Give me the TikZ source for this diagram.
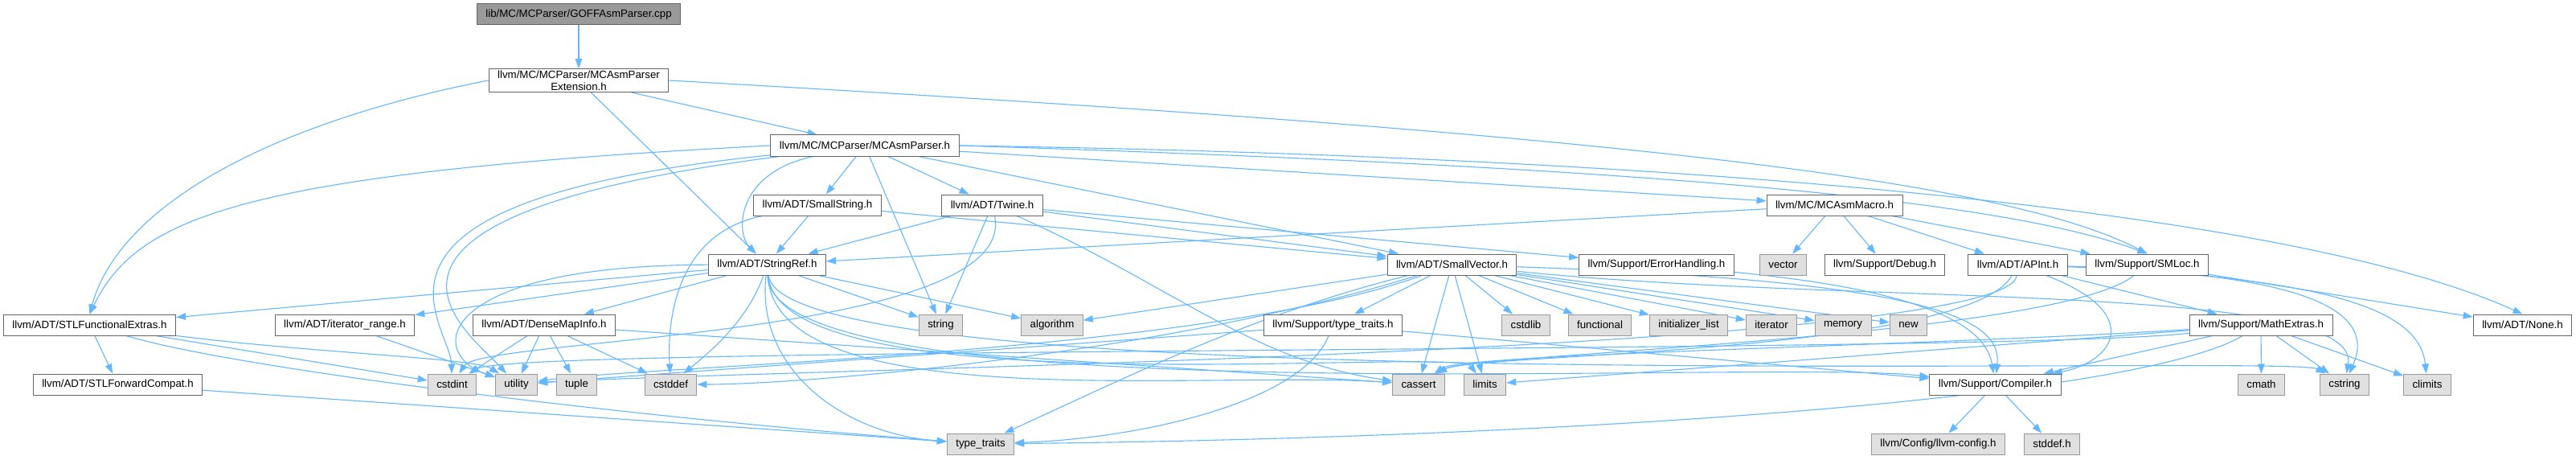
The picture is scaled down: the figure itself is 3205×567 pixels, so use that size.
\documentclass[tikz,border=0pt]{standalone}
\usepackage{fontspec}
\setmainfont{Liberation Sans}
\usetikzlibrary{arrows.meta, backgrounds}

\definecolor{linkblue}{HTML}{63B8FF}
\definecolor{fileborder}{HTML}{666666}
\definecolor{sysfill}{HTML}{E0E0E0}
\definecolor{sysborder}{HTML}{999999}
\definecolor{rootfill}{HTML}{999999}

\begin{document}
\begin{tikzpicture}[
    x=1pt, y=-1pt,
    file/.style={
        draw=fileborder,
        fill=white,
        line width=1pt,
        font=\fontsize{13.3}{15}\selectfont,
        minimum height=26pt,
        inner xsep=11pt,
        inner ysep=2pt,
        align=center
    },
    sys/.style={file, draw=sysborder, fill=sysfill},
    root/.style={file, fill=rootfill},
    dep/.style={draw=linkblue, line width=1.1pt, -{Triangle[length=12pt, width=8.5pt]}}
]
\useasboundingbox (0,0) rectangle (3205,567);

% Source file (Level 0)
\node[root] (goff) at (720,18) {lib/MC/MCParser/GOFFAsmParser.cpp};
\node[file] (ext) at (720,100) {llvm/MC/MCParser/MCAsmParser\\Extension.h};
\node[file] (parser) at (1076,181) {llvm/MC/MCParser/MCAsmParser.h};

% Level 3
\node[file] (smallstring) at (1017,255) {llvm/ADT/SmallString.h};
\node[file] (twine) at (1234.5,255) {llvm/ADT/Twine.h};
\node[file] (asmmacro) at (2282.5,255) {llvm/MC/MCAsmMacro.h};

% Level 4
\node[file] (stringref) at (954.5,329) {llvm/ADT/StringRef.h};
\node[file] (smallvector) at (1806.5,329) {llvm/ADT/SmallVector.h};
\node[file] (errhandling) at (2061,329) {llvm/Support/ErrorHandling.h};
\node[sys] (vector) at (2218.5,329) {vector};
\node[file] (debug) at (2345,329) {llvm/Support/Debug.h};
\node[file] (apint) at (2510.5,329) {llvm/ADT/APInt.h};
\node[file] (smloc) at (2671.5,329) {llvm/Support/SMLoc.h};

% Level 5
\node[file] (stlfe) at (111.5,404) {llvm/ADT/STLFunctionalExtras.h};
\node[file] (iterrange) at (429,404) {llvm/ADT/iterator\_range.h};
\node[file] (densemap) at (677,404) {llvm/ADT/DenseMapInfo.h};
\node[sys] (string) at (1170.5,404) {string};
\node[sys] (algorithm) at (1309,404) {algorithm};
\node[file] (supptraits) at (1658.5,404) {llvm/Support/type\_traits.h};
\node[sys] (cstdlib) at (1898.5,404) {cstdlib};
\node[sys] (functional) at (1990.5,404) {functional};
\node[sys] (initlist) at (2101,404) {initializer\_list};
\node[sys] (iterator) at (2204,404) {iterator};
\node[sys] (memory) at (2293,404) {memory};
\node[sys] (new) at (2374.5,404) {new};
\node[file] (mathextras) at (2813,404) {llvm/Support/MathExtras.h};
\node[file] (none) at (3138.5,404) {llvm/ADT/None.h};

% Level 6
\node[file] (stlfc) at (146.5,478) {llvm/ADT/STLForwardCompat.h};
\node[sys] (cstdint) at (562.5,478) {cstdint};
\node[sys] (utility) at (642.5,478) {utility};
\node[sys] (tuple) at (717.5,478) {tuple};
\node[sys] (cstddef) at (834.5,478) {cstddef};
\node[sys] (cassert) at (1765,478) {cassert};
\node[sys] (limits) at (1847.5,478) {limits};
\node[file] (compiler) at (2482.5,478) {llvm/Support/Compiler.h};
\node[sys] (cmath) at (2813.5,478) {cmath};
\node[sys] (cstring) at (2917,478) {cstring};
\node[sys] (climits) at (3020,478) {climits};

% Level 7
\node[sys] (typetraits) at (1220,552) {type\_traits};
\node[sys] (llvmconfig) at (2411.5,552) {llvm/Config/llvm-config.h};
\node[sys] (stddef) at (2553,552) {stddef.h};

\begin{scope}[on background layer]
\fill[white] (0,0) rectangle (3205,567);

% GOFFAsmParser.cpp and MCAsmParserExtension.h
\draw[dep] (goff) -- (ext);
\draw[dep] (ext) -- (parser);
\draw[dep] (ext.west) .. controls (350,150) and (150,250) .. (stlfe.north);
\draw[dep] (ext) -- (stringref);
\draw[dep] (ext.east) .. controls (1900,160) and (2480,215) .. (smloc.north);

% MCAsmParser.h
\draw[dep] (parser.west) .. controls (300,215) and (170,270) .. (stlfe.north);
\draw[dep] (parser) -- (smallstring);
\draw[dep] (parser) -- (twine);
\draw[dep] (parser) .. controls (915,215) and (915,290) .. (stringref);
\draw[dep] (parser) -- (smallvector);
\draw[dep] (parser) -- (asmmacro);
\draw[dep] (parser.east) .. controls (1950,205) and (2470,240) .. (smloc.north);
\draw[dep] (parser.east) .. controls (2100,195) and (2850,260) .. (none.north);
\draw[dep] (parser) .. controls (400,250) and (560,400) .. (cstdint);
\draw[dep] (parser) .. controls (380,270) and (580,410) .. (utility);
\draw[dep] (parser) -- (string);

% SmallString.h and Twine.h
\draw[dep] (smallstring) -- (smallvector);
\draw[dep] (smallstring) -- (stringref);
\draw[dep] (smallstring) .. controls (840,290) and (830,400) .. (cstddef);
\draw[dep] (twine) -- (smallvector);
\draw[dep] (twine) -- (stringref);
\draw[dep] (twine) -- (errhandling);
\draw[dep] (twine) .. controls (1450,350) and (1560,450) .. (cassert);
\draw[dep] (twine) .. controls (1270,420) and (600,420) .. (cstdint);
\draw[dep] (twine) -- (string);

% MCAsmMacro.h
\draw[dep] (asmmacro) -- (apint);
\draw[dep] (asmmacro) -- (stringref);
\draw[dep] (asmmacro) -- (debug);
\draw[dep] (asmmacro) -- (smloc);
\draw[dep] (asmmacro) -- (vector);

% StringRef.h
\draw[dep] (stringref) -- (densemap);
\draw[dep] (stringref) -- (stlfe);
\draw[dep] (stringref) -- (iterrange);
\draw[dep] (stringref) .. controls (960,520) and (2200,445) .. (compiler);
\draw[dep] (stringref) -- (algorithm);
\draw[dep] (stringref) .. controls (965,520) and (1500,460) .. (cassert);
\draw[dep] (stringref) .. controls (930,400) and (880,440) .. (cstddef);
\draw[dep] (stringref) .. controls (975,500) and (2850,440) .. (cstring);
\draw[dep] (stringref) .. controls (970,510) and (1810,430) .. (limits);
\draw[dep] (stringref) -- (string);
\draw[dep] (stringref) .. controls (940,460) and (1050,540) .. (typetraits);
\draw[dep] (stringref) .. controls (540,330) and (530,440) .. (utility);

% SmallVector.h
\draw[dep] (smallvector) -- (supptraits);
\draw[dep] (smallvector) .. controls (2420,350) and (2490,400) .. (compiler);
\draw[dep] (smallvector) -- (algorithm);
\draw[dep] (smallvector) -- (cassert);
\draw[dep] (smallvector) .. controls (1450,440) and (1000,478) .. (cstddef);
\draw[dep] (smallvector) -- (cstdlib);
\draw[dep] (smallvector) .. controls (2300,380) and (2940,350) .. (cstring);
\draw[dep] (smallvector) -- (functional);
\draw[dep] (smallvector) -- (initlist);
\draw[dep] (smallvector) -- (iterator);
\draw[dep] (smallvector) -- (limits);
\draw[dep] (smallvector) -- (memory);
\draw[dep] (smallvector) -- (new);
\draw[dep] (smallvector) .. controls (1560,390) and (1400,470) .. (typetraits);
\draw[dep] (smallvector) .. controls (1500,440) and (800,455) .. (utility);

% ErrorHandling.h, APInt.h and SMLoc.h
\draw[dep] (errhandling) .. controls (2380,360) and (2470,400) .. (compiler);
\draw[dep] (apint) .. controls (2670,390) and (2630,450) .. (compiler);
\draw[dep] (apint) -- (mathextras);
\draw[dep] (apint) .. controls (2450,440) and (1830,440) .. (cassert);
\draw[dep] (apint) .. controls (2880,345) and (3010,380) .. (climits);
\draw[dep] (apint) .. controls (2850,340) and (2960,380) .. (cstring);
\draw[dep] (apint) .. controls (2500,440) and (900,460) .. (utility);
\draw[dep] (smloc) -- (none);
\draw[dep] (smloc) .. controls (2560,420) and (1830,440) .. (cassert);

% STLFunctionalExtras.h, iterator_range.h and DenseMapInfo.h
\draw[dep] (stlfe) -- (stlfc);
\draw[dep] (stlfe) -- (cstdint);
\draw[dep] (stlfe) .. controls (300,460) and (800,520) .. (typetraits);
\draw[dep] (stlfe) .. controls (400,440) and (590,445) .. (utility);
\draw[dep] (iterrange) -- (utility);
\draw[dep] (densemap) -- (cassert);
\draw[dep] (densemap) -- (cstddef);
\draw[dep] (densemap) -- (cstdint);
\draw[dep] (densemap) -- (tuple);
\draw[dep] (densemap) -- (utility);

% type_traits.h and MathExtras.h
\draw[dep] (supptraits) -- (compiler);
\draw[dep] (supptraits) .. controls (1620,500) and (1420,545) .. (typetraits);
\draw[dep] (supptraits) -- (utility);
\draw[dep] (mathextras) -- (compiler);
\draw[dep] (mathextras) .. controls (2400,430) and (1820,440) .. (cassert);
\draw[dep] (mathextras) -- (climits);
\draw[dep] (mathextras) -- (cmath);
\draw[dep] (mathextras) .. controls (2500,440) and (640,430) .. (cstdint);
\draw[dep] (mathextras) -- (cstring);
\draw[dep] (mathextras) -- (limits);
\draw[dep] (mathextras) .. controls (2650,500) and (1900,545) .. (typetraits);

% STLForwardCompat.h and Compiler.h
\draw[dep] (stlfc) -- (typetraits);
\draw[dep] (compiler) -- (llvmconfig);
\draw[dep] (compiler) -- (stddef);
\end{scope}

\end{tikzpicture}
\end{document}
